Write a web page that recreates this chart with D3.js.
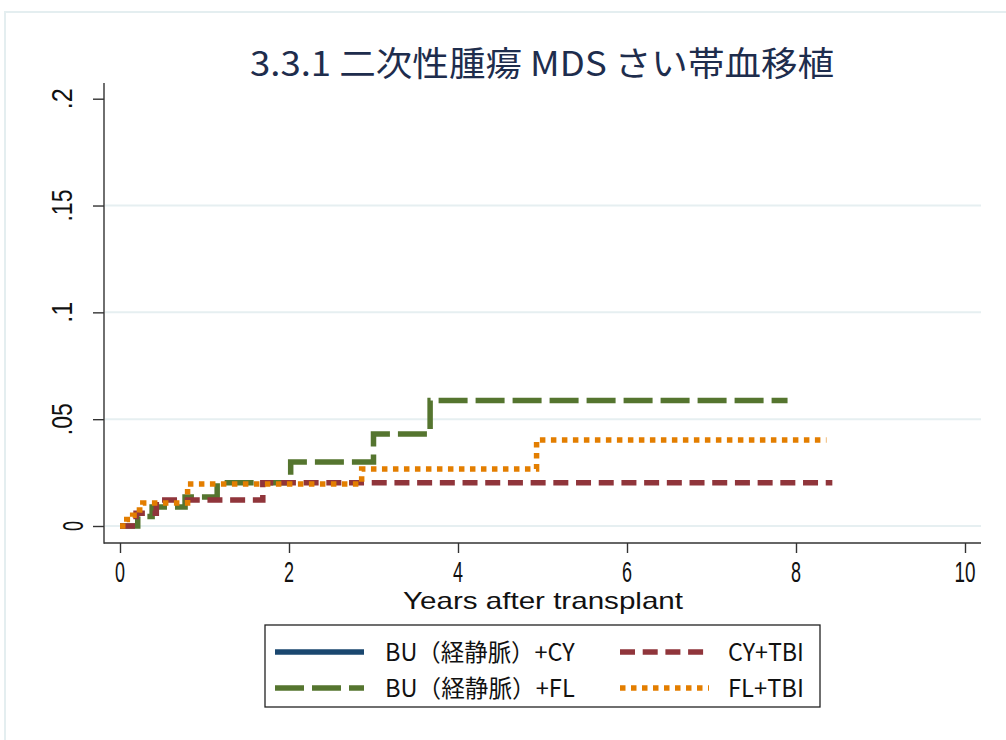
<!DOCTYPE html>
<html>
<head>
<meta charset="utf-8">
<script src="https://cdn.jsdelivr.net/npm/d3@7/dist/d3.min.js"></script>
<style>
  html, body { margin: 0; padding: 0; background: #ffffff; }
  svg { display: block; }
  text { font-family: "Noto Sans CJK JP", "Noto Sans", sans-serif; }
  text.latin { font-family: "Liberation Sans Narrow", "Liberation Sans", sans-serif; }
</style>
</head>
<body>
<svg id="chart" width="1006" height="740"></svg>
<script>
// Cumulative incidence of secondary MDS after cord blood transplant, by conditioning regimen.
const chartTitle = "3.3.1 二次性腫瘍 MDS さい帯血移植";
const xTitle = "Years after transplant";
const xTicks = [0, 2, 4, 6, 8, 10];
const yTicks = [0, 0.05, 0.1, 0.15, 0.2];
const yTickLabels = ["0", ".05", ".1", ".15", ".2"];
const gridValues = [0, 0.05, 0.1, 0.15];

const seriesNames = ["BU（経静脈）+CY", "BU（経静脈）+FL", "CY+TBI", "FL+TBI"];

// step points: [years, cumulative incidence]; last point marks end of follow-up
const buCy = [];
const buFl = [[0, 0], [0.21, 0.0045], [0.38, 0.0089], [0.77, 0.0136], [1.15, 0.0203],
              [2.02, 0.0300], [3.0, 0.0431], [3.67, 0.0587], [7.9, 0.0587]];
const cyTbi = [[0, 0], [0.19, 0.006], [0.43, 0.0122], [1.69, 0.0203], [8.43, 0.0203]];
const flTbi = [[0, 0], [0.08, 0.003], [0.15, 0.005], [0.23, 0.0075], [0.27, 0.0108],
               [0.8, 0.0197], [2.86, 0.0267], [4.93, 0.0403], [8.36, 0.0403]];

const svg = d3.select("#chart");

// half-width / full-width advance, like a fixed-pitch Japanese font
function monoLen(str, em) {
  let n = 0;
  for (const ch of str) n += ch.codePointAt(0) > 0x2E80 ? 1 : 0.5;
  return n * em;
}

// faint outer frame
svg.append("rect").attr("x", 5).attr("y", 12).attr("width", 1100).attr("height", 800)
  .attr("fill", "none").attr("stroke", "#e4eef0").attr("stroke-width", 2);

const x = d3.scaleLinear().domain([0, 10]).range([120, 965]);
const y = d3.scaleLinear().domain([0, 0.2]).range([526, 98.7]);
const plotLeft = 104, plotRight = 981, plotTop = 83, plotBottom = 543;

// grid
svg.append("g").selectAll("line").data(gridValues).join("line")
  .attr("x1", plotLeft + 1).attr("x2", plotRight)
  .attr("y1", d => y(d)).attr("y2", d => y(d))
  .attr("stroke", "#e6eff1").attr("stroke-width", 2);

// axes
const axisColor = "#333333";
const yAxis = svg.append("g").attr("transform", `translate(${plotLeft},0)`)
  .call(d3.axisLeft(y).tickValues(yTicks).tickSize(11).tickSizeOuter(0).tickFormat(""));
yAxis.select(".domain").remove();
yAxis.selectAll(".tick line").attr("stroke", axisColor).attr("stroke-width", 1.4);

const xAxis = svg.append("g").attr("transform", `translate(0,${plotBottom})`)
  .call(d3.axisBottom(x).tickValues(xTicks).tickSize(10).tickSizeOuter(0).tickFormat(""));
xAxis.select(".domain").remove();
xAxis.selectAll(".tick line").attr("stroke", axisColor).attr("stroke-width", 1.4);

svg.append("line").attr("x1", plotLeft).attr("x2", plotLeft)
  .attr("y1", plotTop).attr("y2", plotBottom + 0.7)
  .attr("stroke", axisColor).attr("stroke-width", 1.4);
svg.append("line").attr("x1", plotLeft).attr("x2", plotRight)
  .attr("y1", plotBottom).attr("y2", plotBottom)
  .attr("stroke", axisColor).attr("stroke-width", 1.4);

// tick labels
const tickEm = 22;
svg.append("g").selectAll("text").data(xTicks).join("text")
  .attr("class", "latin")
  .attr("x", d => x(d)).attr("y", 582)
  .attr("text-anchor", "middle").attr("font-size", 29).attr("fill", "#111")
  .attr("textLength", d => monoLen(String(d), tickEm) - 1)
  .attr("lengthAdjust", "spacingAndGlyphs")
  .text(d => String(d));

svg.append("g").selectAll("text").data(yTicks).join("text")
  .attr("class", "latin")
  .attr("transform", (d, i) => `translate(${yTickLabels[i] === "0" ? 83 : 72},${y(d)}) rotate(-90)`)
  .attr("text-anchor", "middle").attr("font-size", 29).attr("fill", "#111")
  .attr("textLength", (d, i) => monoLen(yTickLabels[i], tickEm) - 1)
  .attr("lengthAdjust", "spacingAndGlyphs")
  .text((d, i) => yTickLabels[i]);

// axis title
svg.append("text").attr("class", "latin").attr("x", 543).attr("y", 609)
  .attr("text-anchor", "middle").attr("font-size", 24).attr("fill", "#111")
  .attr("textLength", 280).attr("lengthAdjust", "spacingAndGlyphs")
  .text(xTitle);

// chart title
svg.append("text").attr("x", 250).attr("y", 76)
  .attr("font-size", 34).attr("fill", "#1e2d4d")
  .attr("textLength", 584).attr("lengthAdjust", "spacingAndGlyphs")
  .text(chartTitle);

// series styles
const styles = [
  { data: buCy, color: "#1a476f", dash: null },
  { data: buFl, color: "#55752f", dash: "29 8" },
  { data: cyTbi, color: "#90353b", dash: "15 7.7" },
  { data: flTbi, color: "#e37e00", dash: "5.5 5.5" }
];

const line = d3.line().x(d => x(d[0])).y(d => y(d[1])).curve(d3.curveStepAfter);

const curves = svg.append("g");
styles.forEach(s => {
  if (!s.data.length) return;
  curves.append("path").datum(s.data)
    .attr("d", line)
    .attr("fill", "none")
    .attr("stroke", s.color)
    .attr("stroke-width", 5.5)
    .attr("stroke-dasharray", s.dash)
    .attr("stroke-linecap", "butt")
    .attr("stroke-linejoin", "miter");
});

// legend
const legend = svg.append("g");
legend.append("rect").attr("x", 265).attr("y", 625).attr("width", 555).attr("height", 82)
  .attr("fill", "#ffffff").attr("stroke", "#222").attr("stroke-width", 1.3);

const legendEm = 25.3;
const legendItems = [
  { i: 0, kx: 275, tx: 385, ty: 652 },
  { i: 1, kx: 275, tx: 385, ty: 688 },
  { i: 2, kx: 620, tx: 728, ty: 652 },
  { i: 3, kx: 620, tx: 728, ty: 688 }
];
legendItems.forEach(it => {
  const s = styles[it.i];
  legend.append("line")
    .attr("x1", it.kx).attr("x2", it.kx + 89)
    .attr("y1", it.ty).attr("y2", it.ty)
    .attr("stroke", s.color).attr("stroke-width", 5.5)
    .attr("stroke-dasharray", s.dash).attr("stroke-linecap", "butt");
  legend.append("text")
    .attr("x", it.tx).attr("y", it.ty + 9)
    .attr("font-size", 24).attr("fill", "#111")
    .attr("textLength", monoLen(seriesNames[it.i], legendEm))
    .attr("lengthAdjust", "spacingAndGlyphs")
    .text(seriesNames[it.i]);
});
</script>
</body>
</html>
